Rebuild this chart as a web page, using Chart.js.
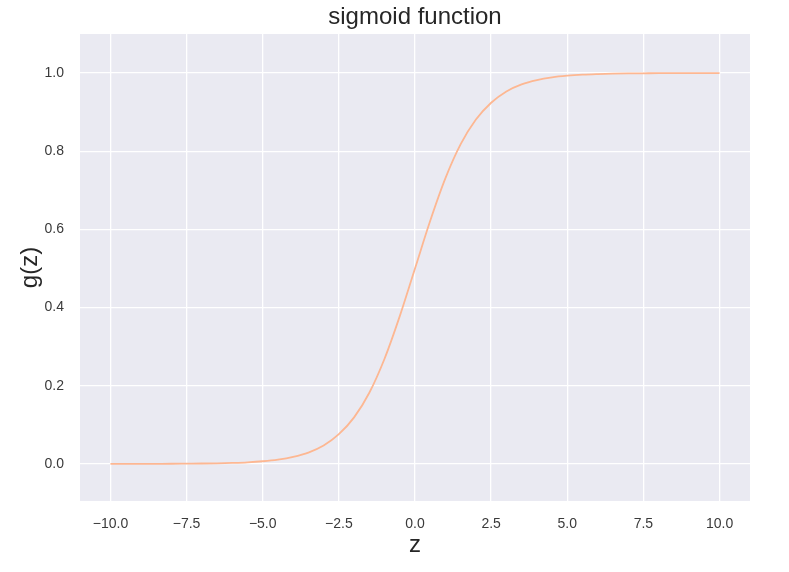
<!DOCTYPE html>
<html>
<head>
<meta charset="utf-8">
<script src="https://cdn.jsdelivr.net/npm/chart.js@4.4.1/dist/chart.umd.min.js"></script>
<style>
  html, body { margin: 0; padding: 0; background: #fff; }
  #wrap { width: 789px; height: 572px; }
</style>
</head>
<body>
<div id="wrap"><canvas id="chartSigmoid" width="789" height="572"></canvas></div>
<script>
// valores (z, g(z))
const zValues = [-10, -9.5, -9, -8.5, -8, -7.5, -7, -6.5, -6, -5.5, -5, -4.5, -4, -3.5, -3, -2.5, -2, -1.5, -1, -0.5,
  0, 0.5, 1, 1.5, 2, 2.5, 3, 3.5, 4, 4.5, 5, 5.5, 6, 6.5, 7, 7.5, 8, 8.5, 9, 9.5, 10];
const gValues = [0.00005, 0.0001, 0.0001, 0.0002, 0.0003, 0.0006, 0.0009, 0.0015, 0.0025, 0.004, 0.0067, 0.011, 0.018, 0.029, 0.047, 0.076, 0.119, 0.182, 0.269, 0.378,
  0.5, 0.622, 0.731, 0.818, 0.881, 0.924, 0.953, 0.971, 0.982, 0.989, 0.9933, 0.996, 0.9975, 0.9985, 0.9991, 0.9994, 0.9997, 0.9998, 0.9999, 0.9999, 0.99995];
const xTicks = [-10, -7.5, -5, -2.5, 0, 2.5, 5, 7.5, 10];
const yTicks = [0, 0.2, 0.4, 0.6, 0.8, 1.0];

const fontFamily = 'Liberation Sans, Arial, sans-serif';
const tickFont = { family: fontFamily, size: 14 };
const tickColor = '#3a3a3a';

// signo menos como en matplotlib
const fmt = v => v.toFixed(1).replace('-', '\u2212');

// fondo gris del área del gráfico (estilo seaborn)
const plotBg = {
  id: 'plotBg',
  beforeDraw(chart) {
    const { ctx, chartArea: a } = chart;
    ctx.save();
    ctx.fillStyle = '#EAEAF2';
    ctx.fillRect(a.left, a.top, a.right - a.left, a.bottom - a.top);
    ctx.restore();
  }
};

const ctx = document.getElementById('chartSigmoid');
new Chart(ctx, {
  type: 'line',
  data: {
    datasets: [{
      data: zValues.map((z, i) => ({ x: z, y: gValues[i] })),
      borderColor: '#FDB792',
      borderWidth: 1.8,
      pointRadius: 0,
      cubicInterpolationMode: 'monotone',
      fill: false
    }]
  },
  options: {
    responsive: false,
    animation: false,
    layout: { padding: { left: 0, right: 39, top: 0, bottom: 0 } },
    plugins: {
      legend: { display: false },
      tooltip: { enabled: false },
      title: {
        display: true,
        fullSize: false, // centrado sobre el área del gráfico
        text: 'sigmoid function',
        color: '#262626',
        font: { family: fontFamily, size: 24, weight: 'normal' },
        padding: { top: 3, bottom: 2.2 }
      }
    },
    scales: {
      x: {
        type: 'linear',
        min: -11,
        max: 11,
        afterBuildTicks: s => { s.ticks = xTicks.map(v => ({ value: v })); },
        afterFit: s => { s.height = 71; },
        grid: { color: '#FFFFFF', lineWidth: 1.3, drawTicks: false },
        border: { display: false },
        ticks: {
          padding: 15,
          color: tickColor,
          font: tickFont,
          maxRotation: 0,
          callback: fmt
        },
        title: {
          display: true,
          text: 'z',
          color: '#262626',
          font: { family: fontFamily, size: 24 },
          padding: { top: 0, bottom: 12 }
        }
      },
      y: {
        min: -0.095,
        max: 1.1,
        afterBuildTicks: s => { s.ticks = yTicks.map(v => ({ value: v })); },
        afterFit: s => { s.width = 80; },
        grid: { color: '#FFFFFF', lineWidth: 1.3, drawTicks: false },
        border: { display: false },
        ticks: {
          padding: 16,
          color: tickColor,
          font: tickFont,
          callback: fmt
        },
        title: {
          display: true,
          text: 'g(z)',
          color: '#262626',
          font: { family: fontFamily, size: 24 },
          padding: { top: 16, bottom: 0 }
        }
      }
    }
  },
  plugins: [plotBg]
});
</script>
</body>
</html>
